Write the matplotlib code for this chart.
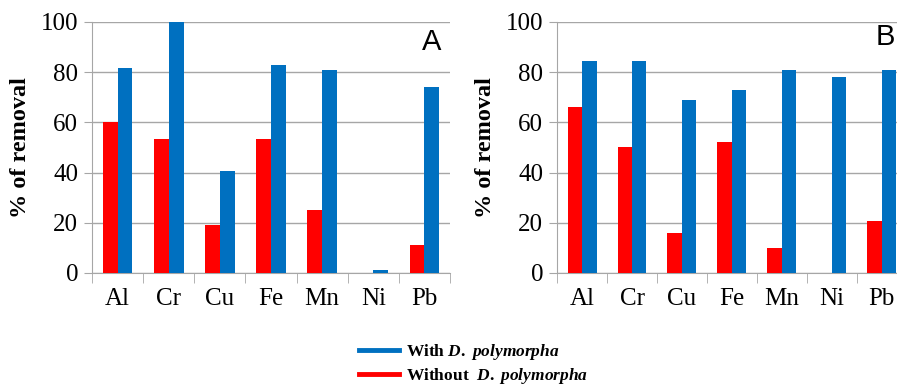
import numpy as np
import matplotlib.pyplot as plt
from matplotlib.lines import Line2D

plt.rcParams['mathtext.fontset'] = 'custom'
plt.rcParams['mathtext.rm'] = 'Liberation Serif:bold'
plt.rcParams['mathtext.it'] = 'Liberation Serif:bold:italic'

metals = ['Al', 'Cr', 'Cu', 'Fe', 'Mn', 'Ni', 'Pb']

# panel A
without_a = [60, 53.5, 19, 53.5, 25, 0, 11]
with_a = [81.5, 100, 40.5, 83, 81, 1, 74]

# panel B
without_b = [66, 50, 16, 52, 10, 0, 20.7]
with_b = [84.5, 84.5, 69, 73, 81, 78.2, 81]

red = '#ff0000'
blue = '#0070c0'
grid_col = '#a6a6a6'
serif = 'Liberation Serif'

fig = plt.figure(figsize=(8.97, 3.87), dpi=100)
ax_a = fig.add_axes([0.1026, 0.2946, 0.399, 0.6486])
ax_b = fig.add_axes([0.621, 0.2946, 0.390, 0.6486])


def draw_panel(ax, red_vals, blue_vals, letter, letter_x, letter_y):
    x = np.arange(len(metals))
    w = 0.29
    ax.bar(x - w / 2, red_vals, w, color=red, zorder=3)
    ax.bar(x + w / 2, blue_vals, w, color=blue, zorder=3)

    ax.set_xlim(-0.5, len(metals) - 0.5)
    ax.set_ylim(0, 100)
    ax.set_yticks(np.arange(0, 101, 20))
    ax.yaxis.grid(True, color=grid_col, linewidth=1.0, zorder=0)
    ax.set_axisbelow(True)

    for s in ['top', 'right']:
        ax.spines[s].set_visible(False)
    ax.spines['left'].set_color(grid_col)
    ax.spines['bottom'].set_color(grid_col)

    ax.set_xticks(x)
    ax.set_xticklabels(metals, fontfamily=serif, fontsize=18)
    ax.set_xticks(np.arange(-0.5, len(metals), 1.0), minor=True)
    ax.tick_params(axis='x', which='major', length=0, pad=11)
    ax.tick_params(axis='x', which='minor', length=7, color=grid_col, direction='out')
    ax.tick_params(axis='y', length=6, color=grid_col, direction='out', pad=4)
    for lab in ax.get_yticklabels():
        lab.set_fontfamily(serif)
        lab.set_fontsize(18)

    ax.set_ylabel('% of removal', fontfamily=serif, fontweight='bold', fontsize=17.5, labelpad=7)
    ax.text(letter_x, letter_y, letter, transform=ax.transAxes, fontsize=21,
            fontfamily='Liberation Sans', ha='center', va='center')


draw_panel(ax_a, without_a, with_a, 'A', 0.95, 0.92)
draw_panel(ax_b, without_b, with_b, 'B', 0.937, 0.94)

# legend
handles = [Line2D([], [], color=blue, linewidth=3.5),
           Line2D([], [], color=red, linewidth=3.5)]
labels = [r'With $\mathit{D.\ polymorpha}$', r'Without  $\mathit{D.\ polymorpha}$']
leg = fig.legend(handles, labels, loc='center', bbox_to_anchor=(0.528, 0.06),
                 frameon=False, handlelength=2.3, handletextpad=0.45,
                 labelspacing=0.25, prop={'family': serif, 'weight': 'bold', 'size': 12.5})

fig.savefig('out.png', dpi=100)
